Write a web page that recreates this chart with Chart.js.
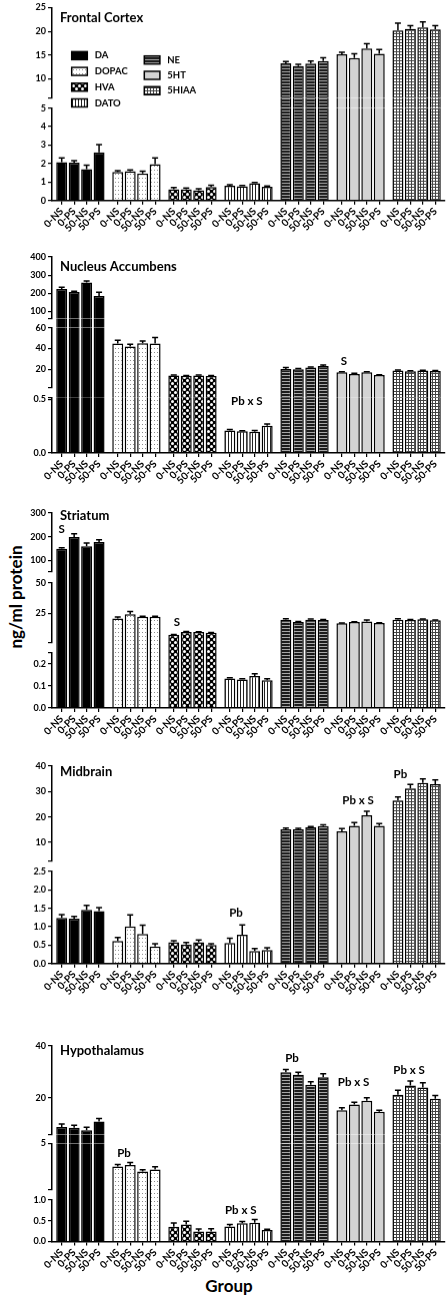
<!DOCTYPE html>
<html>
<head>
<meta charset="utf-8">
<script src="https://cdn.jsdelivr.net/npm/chart.js@4.4.1/dist/chart.umd.min.js"></script>
<style>
  html, body { margin: 0; padding: 0; background: #fff; }
  body { width: 446px; height: 1296px; position: relative; overflow: hidden; font-family: Lato, "Open Sans", sans-serif; }
  .panel { position: absolute; left: 0; width: 446px; }
  #yTitle { position: absolute; left: 15px; top: 597px; transform: translate(-50%, -50%) rotate(-90deg); font-weight: bold; font-size: 17px; line-height: 17px; white-space: nowrap; }
  #xTitle { position: absolute; left: 229px; top: 1277px; transform: translateX(-50%); font-weight: bold; font-size: 17px; line-height: 17px; }
</style>
</head>
<body>
<div id="yTitle">ng/ml protein</div>
<div id="xTitle">Group</div>
<script>
const groups = ["0-NS", "0-PS", "50-NS", "50-PS"];
const analytes = ["DA", "DOPAC", "HVA", "DATO", "NE", "5HT", "5HIAA"];

// Frontal cortex (rows follow analytes, columns follow groups)
const fcMean = [
  [2.07, 2.05, 1.70, 2.61],
  [1.54, 1.59, 1.46, 1.96],
  [0.61, 0.61, 0.55, 0.73],
  [0.80, 0.77, 0.94, 0.75],
  [13.3, 12.7, 13.2, 13.75],
  [15.2, 14.4, 16.4, 15.3],
  [20.2, 20.5, 20.8, 20.4]
];
const fcErr = [
  [0.23, 0.11, 0.21, 0.41],
  [0.07, 0.07, 0.13, 0.34],
  [0.09, 0.07, 0.09, 0.09],
  [0.05, 0.04, 0.03, 0.03],
  [0.33, 0.35, 0.55, 0.7],
  [0.4, 0.9, 1.0, 0.9],
  [1.5, 0.7, 1.2, 0.8]
];
const fcRanges = [[0, 5], [6, 25]];
const fcTicks = [["0", "1", "2", "3", "4", "5"], ["10", "15", "20", "25"]];

// Nucleus accumbens
const naMean = [
  [224, 207, 259, 185],
  [44.8, 41.9, 45.0, 44.8],
  [14.0, 13.7, 13.9, 13.6],
  [0.211, 0.202, 0.199, 0.255],
  [20.3, 20.0, 21.6, 23.1],
  [17.1, 15.5, 17.1, 14.6],
  [18.7, 18.1, 18.7, 18.4]
];
const naErr = [
  [9, 4, 8, 20],
  [3, 2.2, 2.2, 5.7],
  [0.5, 0.3, 0.5, 0.4],
  [0.008, 0.006, 0.01, 0.015],
  [1.3, 0.8, 0.6, 1.0],
  [0.5, 0.6, 0.4, 0.2],
  [0.5, 0.4, 0.4, 0.4]
];
const naRanges = [[0, 0.52], [2, 60], [60, 400]];
const naTicks = [["0.0", "0.5"], ["20", "40", "60"], ["100", "200", "300", "400"]];

// Striatum
const stMean = [
  [149, 198, 159, 177],
  [20.8, 24.2, 22.25, 22.25],
  [7.25, 9.5, 9.5, 8.9],
  [0.134, 0.130, 0.146, 0.126],
  [19.75, 17.8, 19.75, 19.5],
  [16.7, 17.8, 18.3, 16.9],
  [19.75, 19.5, 20.0, 19.2]
];
const stErr = [
  [4, 14, 14, 10],
  [1.1, 2.2, 0.4, 0.4],
  [0.3, 0.4, 0.3, 0.3],
  [0.003, 0.003, 0.01, 0.007],
  [0.8, 0.5, 0.6, 0.3],
  [0.3, 0.3, 1.2, 0.3],
  [0.8, 0.3, 0.4, 0.3]
];
const stRanges = [[0, 0.25], [0.5, 50], [50, 300]];
const stTicks = [["0.0", "0.1", "0.2"], ["25", "50"], ["100", "200", "300"]];

// Midbrain
const mbMean = [
  [1.24, 1.22, 1.46, 1.42],
  [0.61, 1.01, 0.80, 0.46],
  [0.58, 0.52, 0.58, 0.50],
  [0.56, 0.78, 0.34, 0.37],
  [15.1, 15.1, 15.9, 16.4],
  [14.3, 16.5, 20.7, 16.5],
  [26.5, 31.2, 33.4, 32.9]
];
const mbErr = [
  [0.09, 0.06, 0.12, 0.10],
  [0.10, 0.31, 0.24, 0.08],
  [0.04, 0.05, 0.06, 0.04],
  [0.13, 0.27, 0.07, 0.06],
  [0.5, 0.4, 0.3, 0.5],
  [1.1, 1.3, 1.5, 0.9],
  [1.4, 1.6, 1.6, 1.7]
];
const mbRanges = [[0, 2.5], [2.5, 40]];
const mbTicks = [["0.0", "0.5", "1.0", "1.5", "2.0", "2.5"], ["10", "20", "30", "40"]];

// Hypothalamus
const hyMean = [
  [8.9, 8.6, 7.6, 11.0],
  [3.03, 3.15, 2.6, 2.77],
  [0.355, 0.41, 0.24, 0.24],
  [0.36, 0.44, 0.45, 0.275],
  [29.9, 29.0, 25.1, 28.0],
  [15.3, 17.5, 19.0, 14.7],
  [21.3, 24.8, 24.1, 19.7]
];
const hyErr = [
  [1.15, 1.0, 1.2, 1.1],
  [0.17, 0.22, 0.14, 0.22],
  [0.09, 0.08, 0.06, 0.07],
  [0.05, 0.04, 0.08, 0.02],
  [1.1, 0.9, 1.2, 1.3],
  [1.0, 0.9, 1.1, 0.6],
  [1.7, 1.8, 1.8, 1.3]
];
const hyRanges = [[0, 1], [1, 5], [6, 40]];
const hyTicks = [["0.0", "0.5", "1.0"], ["5"], ["20", "40"]];

const FONT = "Lato, 'Open Sans', sans-serif";
const groupStep = 4.5;
const xPad = 0.78;
const xAxisH = 48;

function barX(g, i) {
  return g * groupStep + i;
}

function makePattern(w, h, paint) {
  const c = document.createElement("canvas");
  c.width = w;
  c.height = h;
  const ctx = c.getContext("2d");
  paint(ctx);
  return ctx.createPattern(c, "repeat");
}

const fills = [
  "#000000",
  makePattern(3, 4, (c) => {
    c.fillStyle = "#fff"; c.fillRect(0, 0, 3, 4);
    c.fillStyle = "#8c8c8c"; c.fillRect(1, 1, 1, 1);
  }),
  makePattern(6, 6, (c) => {
    c.fillStyle = "#000"; c.fillRect(0, 0, 6, 6);
    c.fillStyle = "#fff";
    c.beginPath(); c.arc(1.5, 1.5, 1.5, 0, Math.PI * 2); c.fill();
    c.beginPath(); c.arc(4.5, 4.5, 1.5, 0, Math.PI * 2); c.fill();
  }),
  makePattern(3, 1, (c) => {
    c.fillStyle = "#fff"; c.fillRect(0, 0, 3, 1);
    c.fillStyle = "#222"; c.fillRect(0, 0, 1, 1);
  }),
  makePattern(1, 3, (c) => {
    c.fillStyle = "#1c1c1c"; c.fillRect(0, 0, 1, 3);
    c.fillStyle = "#a8a8a8"; c.fillRect(0, 2, 1, 1);
  }),
  "#d3d3d3",
  makePattern(3, 3, (c) => {
    c.fillStyle = "#fff"; c.fillRect(0, 0, 3, 3);
    c.fillStyle = "#444"; c.fillRect(0, 0, 3, 1); c.fillRect(0, 0, 1, 3);
  })
];

const panels = [
  { title: "Frontal Cortex", mean: fcMean, err: fcErr, ranges: fcRanges, ticks: fcTicks,
    top: 4, seg: [93.7, 91.7], gap: [10.3], titleDy: 10.7, legend: true, notes: [] },
  { title: "Nucleus Accumbens", mean: naMean, err: naErr, ranges: naRanges, ticks: naTicks,
    top: 256.7, seg: [55.7, 60.4, 61.6], gap: [9.3, 9], titleDy: 10,
    notes: [
      { g: 3, at: 1.37, lift: 23, text: "Pb x S" },
      { g: 5, at: 0.17, lift: 10, text: "S" }
    ] },
  { title: "Striatum", mean: stMean, err: stErr, ranges: stRanges, ticks: stTicks,
    top: 512.7, seg: [55, 60, 59], gap: [10, 11], titleDy: 3.3,
    notes: [
      { g: 0, at: 0, lift: 4, text: "S" },
      { g: 2, at: 0.26, lift: 9, text: "S" }
    ] },
  { title: "Midbrain", mean: mbMean, err: mbErr, ranges: mbRanges, ticks: mbTicks,
    top: 766, seg: [91.7, 95], gap: [10], titleDy: 6,
    notes: [
      { g: 3, at: 0.5, lift: 11.6, text: "Pb" },
      { g: 5, at: 1.3, lift: 10.3, text: "Pb x S" },
      { g: 6, at: 0.2, lift: 4.7, text: "Pb" }
    ] },
  { title: "Hypothalamus", mean: hyMean, err: hyErr, ranges: hyRanges, ticks: hyTicks,
    top: 1045.5, seg: [41.5, 46.5, 88.5], gap: [10, 9], titleDy: 5.2,
    notes: [
      { g: 1, at: 0.5, lift: 9.6, text: "Pb" },
      { g: 3, at: 0.88, lift: 9.4, text: "Pb x S" },
      { g: 4, at: 0.5, lift: 11.4, text: "Pb" },
      { g: 5, at: 0.94, lift: 15.6, text: "Pb x S" },
      { g: 6, at: 0.9, lift: 11, text: "Pb x S" }
    ] }
];

// pixel of a value on a broken axis (values inside a break use the gap axis)
function valuePixel(chart, ranges, v) {
  const n = ranges.length;
  for (let k = 0; k < n; k++) {
    const hi = ranges[k][1];
    if (v <= hi || k === n - 1) return chart.scales["y" + k].getPixelForValue(v);
    const nextLo = ranges[k + 1][0];
    if (v < nextLo) return chart.scales["g" + k].getPixelForValue((v - hi) / (nextLo - hi));
  }
  return null;
}

function pieceSets(axisId, spanOf, endsHere, pts) {
  const make = (isEnd) => {
    const chosen = pts.filter((pt) => spanOf(pt.v, isEnd) && endsHere(pt.v) === isEnd);
    return {
      yAxisID: axisId,
      grouped: false,
      data: chosen.map((pt) => ({ x: pt.x, y: spanOf(pt.v, isEnd) })),
      backgroundColor: chosen.map((pt) => pt.fill),
      borderColor: "#000",
      borderSkipped: false,
      borderWidth: { top: isEnd ? 1.5 : 0, right: 1.5, bottom: 0, left: 1.5 },
      categoryPercentage: 1,
      barPercentage: 0.88
    };
  };
  return [make(true), make(false)];
}

function buildDatasets(p) {
  const pts = [];
  p.mean.forEach((row, g) => row.forEach((v, i) => pts.push({ x: barX(g, i), v, fill: fills[g] })));
  let sets = [];
  p.ranges.forEach(([lo, hi], k) => {
    // pieces that continue upward overlap the next piece by ~1px to hide seams
    const over = (hi - lo) / p.seg[k];
    sets = sets.concat(pieceSets("y" + k,
      (v, isEnd) => (v > lo ? [lo, isEnd ? v : hi + over] : null),
      (v) => v <= hi, pts));
    if (k < p.ranges.length - 1) {
      const nextLo = p.ranges[k + 1][0];
      const gOver = 1 / p.gap[k];
      sets = sets.concat(pieceSets("g" + k,
        (v, isEnd) => (v > hi ? [0, isEnd ? (v - hi) / (nextLo - hi) : 1 + gOver] : null),
        (v) => v < nextLo, pts));
    }
  });
  return sets;
}

function buildScales(p) {
  const tickXs = [];
  analytes.forEach((a, g) => groups.forEach((grp, i) => tickXs.push(barX(g, i))));
  const scales = {
    x: {
      type: "linear",
      position: "bottom",
      offset: false,
      bounds: "data",
      min: -xPad,
      max: barX(analytes.length - 1, 3) + xPad,
      afterBuildTicks: (axis) => { axis.ticks = tickXs.map((value) => ({ value })); },
      afterFit: (axis) => { axis.height = xAxisH; },
      ticks: {
        autoSkip: false, minRotation: 45, maxRotation: 45, padding: 1, color: "#000",
        font: { family: FONT, size: 10, weight: "bold" },
        callback: (v, i) => groups[i % groups.length]
      },
      grid: { drawOnChartArea: false, drawTicks: true, tickLength: 4, color: "#000", lineWidth: 1.2, offset: false },
      border: { display: true, color: "#000", width: 1.5, z: 1 }
    }
  };
  p.ranges.forEach(([lo, hi], k) => {
    const labels = p.ticks[k];
    scales["y" + k] = {
      type: "linear",
      position: "left",
      stack: "v",
      stackWeight: p.seg[k],
      min: lo,
      max: hi,
      bounds: "data",
      offset: false,
      afterBuildTicks: (axis) => {
        const vals = [...new Set([lo, ...labels.map(Number), hi])];
        axis.ticks = vals.map((value) => ({ value }));
      },
      afterFit: (axis) => { axis.width = 30; },
      ticks: {
        autoSkip: false, padding: 2, color: "#000",
        font: { family: FONT, size: 9, weight: "bold" },
        callback: (v) => {
          const s = labels.find((t) => Number(t) === v);
          return s === undefined ? "" : s;
        }
      },
      grid: { drawOnChartArea: false, drawTicks: true, tickLength: 4, color: "#000", lineWidth: 1.2 },
      border: { display: true, color: "#000", width: 1.5, z: 1 }
    };
    if (k < p.ranges.length - 1) {
      scales["g" + k] = {
        type: "linear", position: "left", stack: "v", stackWeight: p.gap[k],
        min: 0, max: 1, display: false
      };
    }
  });
  return scales;
}

function drawLegend(ctx, area) {
  ctx.font = "bold 9.5px " + FONT;
  ctx.textBaseline = "middle";
  ctx.textAlign = "left";
  analytes.forEach((name, k) => {
    const col = k < 4 ? 0 : 1;
    const row = col ? k - 4 : k;
    const x = area.left + (col ? 92.3 : 19.7);
    const y = area.top + (col ? 52.3 + row * 15.3 : 48 + row * 15.7);
    ctx.fillStyle = fills[k];
    ctx.fillRect(x, y - 4, 15.6, 8);
    ctx.strokeStyle = "#000";
    ctx.lineWidth = 1.5;
    ctx.strokeRect(x, y - 4, 15.6, 8);
    ctx.fillStyle = "#000";
    ctx.fillText(name, x + 23, y);
  });
}

function makeDeco(p) {
  return {
    id: "panelDeco",
    afterDatasetsDraw(chart) {
      const ctx = chart.ctx;
      const xs = chart.scales.x;
      const area = chart.chartArea;
      ctx.save();
      // error bars
      ctx.strokeStyle = "#000";
      ctx.lineWidth = 1.5;
      p.mean.forEach((row, g) => row.forEach((m, i) => {
        const x = xs.getPixelForValue(barX(g, i));
        const y0 = valuePixel(chart, p.ranges, m);
        const y1 = valuePixel(chart, p.ranges, m + p.err[g][i]);
        ctx.beginPath();
        ctx.moveTo(x, y0);
        ctx.lineTo(x, y1);
        ctx.moveTo(x - 3, y1);
        ctx.lineTo(x + 3, y1);
        ctx.stroke();
      }));
      // region title
      ctx.fillStyle = "#000";
      ctx.font = "bold 13px " + FONT;
      ctx.textAlign = "left";
      ctx.textBaseline = "middle";
      ctx.fillText(p.title, area.left + 8, area.top + p.titleDy);
      // significance notes
      ctx.font = "bold 11.5px " + FONT;
      ctx.textAlign = "center";
      p.notes.forEach((n) => {
        const tops = p.mean[n.g].map((m, i) => valuePixel(chart, p.ranges, m + p.err[n.g][i]));
        const x = xs.getPixelForValue(barX(n.g, 0) + n.at);
        ctx.fillText(n.text, x, Math.min(...tops) - n.lift);
      });
      if (p.legend) drawLegend(ctx, area);
      ctx.restore();
    }
  };
}

function main() {
  panels.forEach((p) => {
    const plotH = p.seg.reduce((a, b) => a + b, 0) + p.gap.reduce((a, b) => a + b, 0);
    const padTop = Math.min(10, p.top);
    const box = document.createElement("div");
    box.className = "panel";
    box.style.top = (p.top - padTop) + "px";
    box.style.height = (padTop + plotH + xAxisH) + "px";
    const canvas = document.createElement("canvas");
    box.appendChild(canvas);
    document.body.appendChild(box);

    new Chart(canvas, {
      type: "bar",
      data: { datasets: buildDatasets(p) },
      options: {
        responsive: true,
        maintainAspectRatio: false,
        animation: false,
        events: [],
        layout: { padding: { top: padTop, left: 22, right: 1, bottom: 0 } },
        plugins: { legend: { display: false }, tooltip: { enabled: false } },
        scales: buildScales(p)
      },
      plugins: [makeDeco(p)]
    });
  });
}

main();
</script>
</body>
</html>
